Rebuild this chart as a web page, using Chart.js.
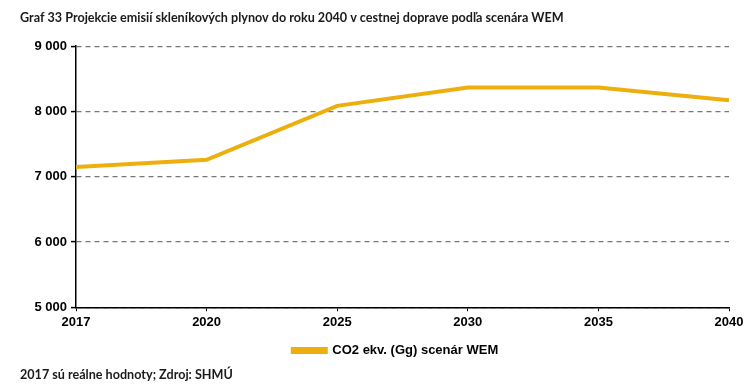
<!DOCTYPE html>
<html>
<head>
<meta charset="utf-8">
<script src="https://cdn.jsdelivr.net/npm/chart.js@4"></script>
<style>
    html, body { margin: 0; padding: 0; background: #fff; }
    #wrap { width: 747px; height: 386px; }
</style>
</head>
<body>
<div id="wrap"><canvas id="graf33"></canvas></div>
<script>
/** Data */
const years = ['2017', '2020', '2025', '2030', '2035', '2040'];
const co2Wem = [7150, 7260, 8085, 8365, 8365, 8170];
const seriesLabel = 'CO2 ekv. (Gg) scenár WEM';
const titleText = 'Graf 33 Projekcie emisií skleníkových plynov do roku 2040 v cestnej doprave podľa scenára WEM';
const noteText = '2017 sú reálne hodnoty; Zdroj: SHMÚ';

// legend sits a bit right of the canvas centre in the original
const legendShift = {
    id: 'legendShift',
    afterLayout: function (chart) {
        chart.legend.left += 42;
    }
};

/** Chart */
let ctx = document.getElementById('graf33').getContext('2d');
new Chart(ctx, {
    type: 'line',
    data: {
        labels: years,
        datasets: [{
            label: seriesLabel,
            data: co2Wem,
            borderColor: '#EDAF0E',
            backgroundColor: '#EDAF0E',
            borderWidth: 4,
            pointRadius: 0,
            tension: 0
        }]
    },
    plugins: [legendShift],
    options: {
        responsive: true,
        maintainAspectRatio: false,
        animation: false,
        layout: { padding: { left: 20, right: 18, top: 4, bottom: 2 } },
        plugins: {
            title: {
                display: true,
                text: titleText,
                align: 'start',
                color: '#1a1a1a',
                font: { family: 'Lato', size: 12.6, weight: 'bold' },
                padding: { top: 6, bottom: 21 }
            },
            subtitle: {
                display: true,
                position: 'bottom',
                text: noteText,
                align: 'start',
                color: '#1a1a1a',
                font: { family: 'Lato', size: 12.6, weight: 'bold' },
                padding: { top: 0, bottom: 2 }
            },
            legend: {
                position: 'bottom',
                labels: {
                    boxWidth: 33,
                    boxHeight: 3,
                    color: '#000',
                    font: { family: 'Liberation Sans', size: 13, weight: 'bold' },
                    padding: 7
                }
            },
            tooltip: { enabled: false }
        },
        scales: {
            x: {
                offset: false,
                afterFit: function (scale) { scale.height += 4; },
                grid: { drawOnChartArea: false, drawTicks: true, tickLength: 4, tickColor: '#000' },
                border: { color: '#000', width: 1.5 },
                ticks: {
                    color: '#000',
                    font: { family: 'Liberation Sans', size: 13, weight: 'bold' },
                    padding: 3,
                    maxRotation: 0
                }
            },
            y: {
                min: 5000,
                max: 9000,
                afterFit: function (scale) { scale.width = 56; },
                grid: { color: '#777', lineWidth: 1.2, tickLength: 5, tickColor: '#000', tickWidth: 1.5 },
                border: { color: '#000', width: 1.5, dash: [5, 4] },
                ticks: {
                    stepSize: 1000,
                    color: '#000',
                    padding: 4,
                    font: { family: 'Liberation Sans', size: 13, weight: 'bold' },
                    callback: function (value) {
                        return String(value).replace(/\B(?=(\d{3})+(?!\d))/g, ' ');
                    }
                }
            }
        }
    }
});
</script>
</body>
</html>
